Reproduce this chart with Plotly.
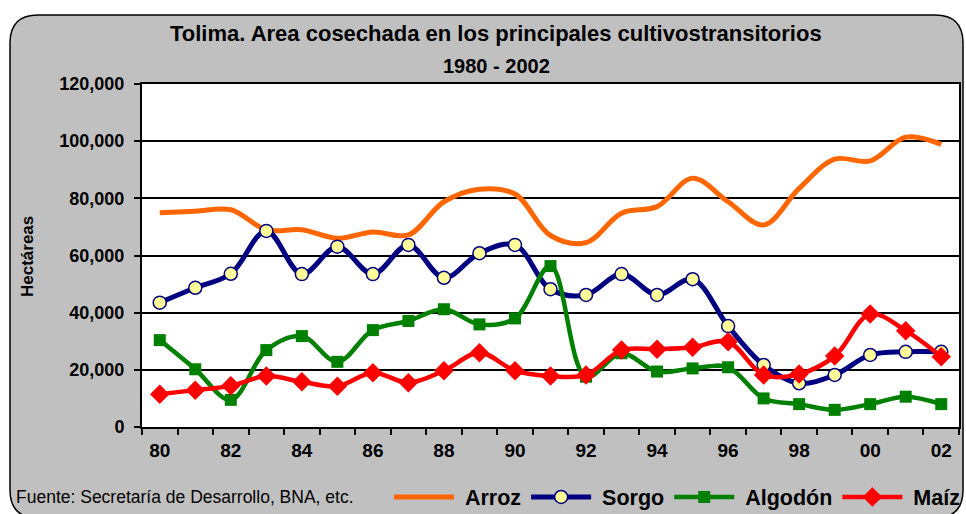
import plotly.graph_objects as go

years = list(range(1980, 2003))
tick_years = [1980, 1982, 1984, 1986, 1988, 1990, 1992, 1994, 1996, 1998, 2000, 2002]
tick_labels = ["80", "82", "84", "86", "88", "90", "92", "94", "96", "98", "00", "02"]
series_names = ["Arroz", "Sorgo", "Algodón", "Maíz"]

arroz = [75000, 75500, 76000, 69000, 69000, 66000, 68200, 67200, 78800, 83200, 81500, 67000,
         64500, 74800, 77100, 87000, 78800, 70700, 83500, 93700, 93100, 101400, 98900]
sorgo = [43500, 48700, 53600, 68600, 53500, 63100, 53500, 63700, 52200, 60800, 63700, 48200,
         46200, 53500, 46200, 51700, 35300, 21700, 15300, 18200, 25200, 26300, 26300]
algodon = [30400, 20200, 9500, 26900, 31800, 22800, 33900, 37100, 41200, 35900, 38000, 56300,
           17600, 25800, 19400, 20500, 20900, 10000, 8000, 6000, 8000, 10600, 8000]
maiz = [11500, 12900, 14400, 17800, 15800, 14300, 19000, 15500, 19700, 26000, 19700, 17800,
        18200, 26900, 27200, 27900, 29800, 18200, 18500, 24800, 39500, 33700, 24600]

W, H = 966, 514
ML, MR, MT, MB = 142, 7, 84, 87
PW, PH = W - ML - MR, H - MT - MB


def px(x):
    return (x - ML) / PW


def py(y):
    return (H - MB - y) / PH


FONT = "Liberation Sans, Arial, sans-serif"
NB = "\u00a0"

fig = go.Figure()
fig.add_trace(go.Scatter(x=years, y=arroz, name=NB + series_names[0], mode="lines",
                         line=dict(color="#FF6600", width=5, shape="spline", smoothing=1)))
fig.add_trace(go.Scatter(x=years, y=sorgo, name=NB + series_names[1], mode="lines+markers",
                         line=dict(color="#000080", width=5, shape="spline", smoothing=1),
                         marker=dict(symbol="circle", size=13, color="#FFFF99",
                                     line=dict(color="#000080", width=1.5))))
fig.add_trace(go.Scatter(x=years, y=algodon, name=NB + series_names[2], mode="lines+markers",
                         line=dict(color="#008000", width=4.5, shape="spline", smoothing=1),
                         marker=dict(symbol="square", size=12, color="#008000")))
fig.add_trace(go.Scatter(x=years, y=maiz, name=NB + series_names[3], mode="lines+markers",
                         line=dict(color="#FF0000", width=4.5, shape="spline", smoothing=1),
                         marker=dict(symbol="diamond", size=15, color="#FF0000")))

# rounded grey frame
L, T, R, B, r = 10, 15, 963, 518, 28
pts = [
    ("M", [(L, T + r)]), ("Q", [(L, T), (L + r, T)]), ("L", [(R - r, T)]),
    ("Q", [(R, T), (R, T + r)]), ("L", [(R, B - r)]), ("Q", [(R, B), (R - r, B)]),
    ("L", [(L + r, B)]), ("Q", [(L, B), (L, B - r)]),
]
path = ""
for cmd, coords in pts:
    path += cmd + " " + " ".join(f"{px(a):.5f},{py(b):.5f}" for a, b in coords) + " "
path += "Z"

shapes = [
    dict(type="path", path=path, xref="paper", yref="paper", layer="below",
         fillcolor="#C0C0C0", line=dict(color="black", width=1.5)),
    dict(type="rect", x0=0, x1=1, y0=0, y1=1, xref="paper", yref="paper", layer="below",
         fillcolor="white", line=dict(width=0)),
]

annotations = [
    dict(text="<b>Tolima. Area cosechada en los principales cultivostransitorios</b>",
         x=px(496), y=py(34), xref="paper", yref="paper", showarrow=False,
         xanchor="center", yanchor="middle", font=dict(family=FONT, size=22, color="black")),
    dict(text="<b>1980 - 2002</b>", x=px(496), y=py(66), xref="paper", yref="paper",
         showarrow=False, xanchor="center", yanchor="middle",
         font=dict(family=FONT, size=20, color="black")),
    dict(text="<b>Hectáreas</b>", x=px(27), y=py(257), xref="paper", yref="paper",
         showarrow=False, textangle=-90, xanchor="center", yanchor="middle",
         font=dict(family=FONT, size=17, color="black")),
    dict(text="Fuente: Secretaría de Desarrollo, BNA, etc.", x=px(14), y=py(497),
         xref="paper", yref="paper", showarrow=False, xanchor="left", yanchor="middle",
         font=dict(family=FONT, size=17.5, color="black")),
]

fig.update_layout(
    width=W, height=H,
    margin=dict(l=ML, r=MR, t=MT, b=MB, pad=0, autoexpand=False),
    paper_bgcolor="white", plot_bgcolor="white",
    shapes=shapes, annotations=annotations,
    showlegend=True,
    legend=dict(orientation="h", x=px(389), y=py(497), xanchor="left", yanchor="middle",
                bgcolor="rgba(0,0,0,0)", itemwidth=60,
                font=dict(family=FONT, size=21.5, color="black", weight="bold"),
                tracegroupgap=0),
    font=dict(family=FONT, color="black"),
)

fig.update_xaxes(
    range=[1979.5, 2002.5], tickmode="array", tickvals=tick_years, ticktext=tick_labels,
    ticks="", showgrid=False, zeroline=False,
    showline=True, linecolor="black", linewidth=2, mirror=True,
    tickfont=dict(family=FONT, size=19, color="black", weight="bold"),
    ticklabelstandoff=5,
    minor=dict(tickmode="linear", tick0=1979.5, dtick=1, ticks="outside", ticklen=6,
               tickwidth=1.5, tickcolor="black", showgrid=False),
)
fig.update_yaxes(
    range=[0, 120000], dtick=20000, tickformat=",", ticks="outside", ticklen=6,
    tickwidth=1.5, tickcolor="black",
    showgrid=True, gridcolor="black", gridwidth=1.5, zeroline=False,
    showline=True, linecolor="black", linewidth=2, mirror=True,
    tickfont=dict(family=FONT, size=18, color="black", weight="bold"),
    ticklabelstandoff=6,
)

fig.write_html("out.html", config={"displayModeBar": False},
               post_script="document.body.style.margin='0';")
